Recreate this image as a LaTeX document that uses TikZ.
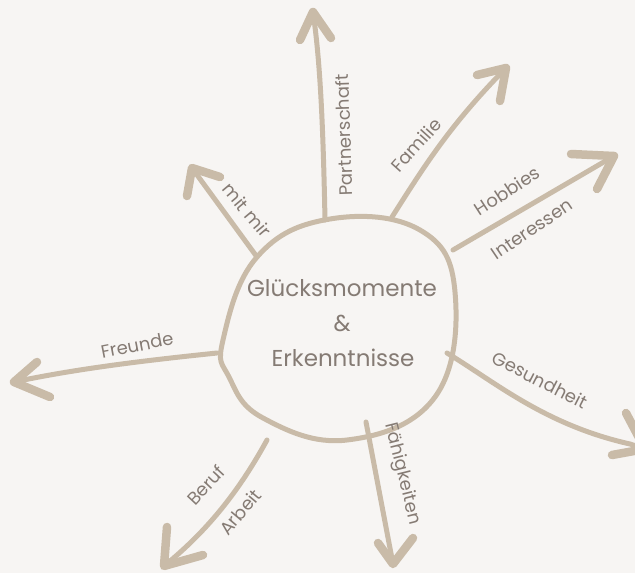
\documentclass[tikz,border=0pt]{standalone}
\usepackage{fontspec}
\setmainfont{Poppins}
\definecolor{bgc}{HTML}{F7F5F3}
\definecolor{strk}{HTML}{C9BBA8}
\definecolor{txt}{HTML}{857B74}
\tikzset{
  shaft/.style={draw=strk, line width=5pt, line cap=round, line join=round},
  arrowhead/.style={draw=strk, line width=8.5pt, line cap=round, line join=round},
  lbl/.style={text=txt, font=\fontsize{18}{21}\selectfont, inner sep=0pt},
  centre/.style={text=txt, font=\fontsize{23}{28}\selectfont, inner sep=0pt}
}
\begin{document}
\begin{tikzpicture}[x=1pt,y=-1pt]
\useasboundingbox (0,0) rectangle (635,573);
\clip (0,0) rectangle (635,573);
\fill[bgc] (0,0) rectangle (635,573);

% central blob
\draw[strk, line width=5pt] plot[smooth cycle, tension=0.7] coordinates
  {(330,219) (420,230) (455,292) (435,397) (347,440) (263,418) (229,377) (223,340) (257,257)};

\node[centre] (t1) at (342,288) {Glücksmomente};
\node[centre] (t2) at (342,323) {\&};
\node[centre] (t3) at (343,358) {Erkenntnisse};

% Partnerschaft
\coordinate (pa0) at (325,220);
\coordinate (pa1) at (313,12);
\coordinate (paw1) at (300,40);
\coordinate (paw2) at (331,38);
\draw[shaft] (pa0) .. controls (323,120) and (320,60) .. (pa1);
\draw[arrowhead] (paw1) -- (pa1) -- (paw2);
\node[lbl, rotate=92] (lpa) at (344,135) {Partnerschaft};

% Familie
\coordinate (fa0) at (392,217);
\coordinate (fa1) at (506,68);
\draw[shaft] (fa0) .. controls (425,165) and (450,125) .. (fa1);
\draw[arrowhead] (477,75) -- (fa1) -- (500,101);
\node[lbl, rotate=48] (lfa) at (416,145) {Familie};

% Hobbies / Interessen
\coordinate (ho0) at (453,250);
\coordinate (ho1) at (614,156);
\draw[shaft] (ho0) -- (ho1);
\draw[arrowhead] (571,154) -- (ho1) -- (597,189);
\node[lbl, rotate=33] (lho) at (507,191) {Hobbies};
\node[lbl, rotate=34] (lin) at (532,229) {Interessen};

% Gesundheit
\coordinate (ge0) at (447,353);
\coordinate (ge1) at (645,449);
\draw[shaft] (ge0) .. controls (495,382) and (545,425) .. (630,444) -- (ge1);
\draw[arrowhead] (626,413) -- (ge1) -- (612,455);
\node[lbl, rotate=-27] (lge) at (540,380) {Gesundheit};

% Fähigkeiten
\coordinate (fh0) at (366,422);
\coordinate (fh1) at (393,564);
\draw[shaft] (fh0) -- (fh1);
\draw[arrowhead] (378,543) -- (fh1) -- (413,538);
\node[lbl, rotate=-76] (lfh) at (402,474) {Fähigkeiten};

% Beruf / Arbeit
\coordinate (be0) at (267,440);
\coordinate (be1) at (164,566);
\draw[shaft] (be0) .. controls (245,480) and (215,525) .. (be1);
\draw[arrowhead] (167,527) -- (be1) -- (203,555);
\node[lbl, rotate=47] (lbe) at (206,485) {Beruf};
\node[lbl, rotate=50] (lar) at (240,512) {Arbeit};

% Freunde
\coordinate (fr0) at (217,353);
\coordinate (fr1) at (14,382);
\draw[shaft] (fr0) .. controls (150,360) and (80,368) .. (fr1);
\draw[arrowhead] (37,362) -- (fr1) -- (50,397);
\node[lbl, rotate=11] (lfr) at (137,345) {Freunde};

% mit mir
\coordinate (mm0) at (257,257);
\coordinate (mm1) at (192,168);
\draw[shaft] (mm0) -- (mm1);
\draw[arrowhead] (187,196) -- (mm1) -- (220,177);
\node[lbl, rotate=-50] (lmm) at (247,210) {mit mir};
\end{tikzpicture}
\end{document}
